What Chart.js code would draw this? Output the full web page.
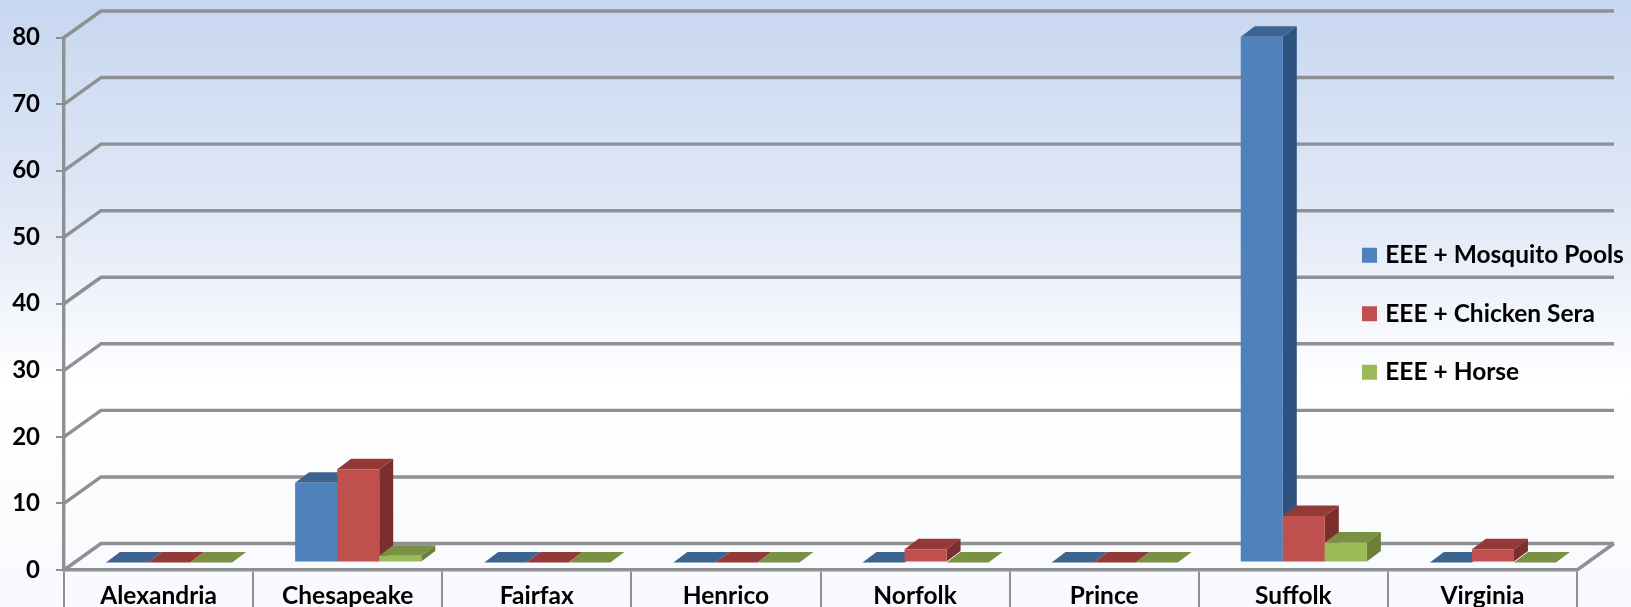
<!DOCTYPE html>
<html>
<head>
<meta charset="utf-8">
<style>
  html, body { margin: 0; padding: 0; background: #fff; overflow: hidden; }
  #wrap { width: 1631px; height: 607px; }
</style>
</head>
<body>
<div id="wrap"><canvas id="chart"></canvas></div>
<script src="https://cdn.jsdelivr.net/npm/chart.js@4"></script>
<script>
const counties = ['Alexandria', 'Chesapeake', 'Fairfax', 'Henrico', 'Norfolk', 'Prince', 'Suffolk', 'Virginia'];
const mosquitoPools = [0, 12, 0, 0, 0, 0, 79, 0];
const chickenSera = [0, 14, 0, 0, 2, 0, 7, 2];
const horse = [0, 1, 0, 0, 0, 0, 3, 0];

const gridGray = '#8e9094';
const fontFamily = 'Lato';
const labelFont = { family: fontFamily, size: 24.5, weight: 'bold' };

// 3D look: wall depth, how far the bars sit in from the front edge, and bar depth
const wall = { dx: 37, dy: -26.5 };
const inset = { dx: 10.5, dy: -7.5 };
const depth = { dx: 14, dy: -10.5 };

const faces = [
  { top: '#3d6491', side: '#2f5380' },
  { top: '#933a38', side: '#7b2f2d' },
  { top: '#7a9143', side: '#6b8039' }
];

function poly(ctx, color, pts) {
  ctx.fillStyle = color;
  ctx.beginPath();
  pts.forEach((p, i) => i ? ctx.lineTo(p[0], p[1]) : ctx.moveTo(p[0], p[1]));
  ctx.closePath();
  ctx.fill();
}

const look3d = {
  id: 'look3d',
  afterLayout(chart) {
    // move the legend from its default chartArea slot to the right side
    const lg = chart.legend;
    const pad = lg.options.labels.padding;
    lg.left = 1366 - pad;
    lg.right = 1631;
    lg.top = 243 - pad;
    lg.bottom = 607;
  },
  beforeDraw(chart) {
    const { ctx, width, height, scales: { x, y } } = chart;
    const bg = ctx.createLinearGradient(0, 0, 0, height);
    bg.addColorStop(0, '#c7d7f0');
    bg.addColorStop(0.33, '#dfe7f6');
    bg.addColorStop(0.64, '#ffffff');
    bg.addColorStop(1, '#f8f9fd');
    ctx.fillStyle = bg;
    ctx.fillRect(0, 0, width, height);

    ctx.save();
    ctx.strokeStyle = gridGray;
    ctx.lineWidth = 3.4;
    ctx.lineJoin = 'round';
    y.ticks.forEach(t => {
      const py = y.getPixelForValue(t.value);
      ctx.beginPath();
      ctx.moveTo(x.left, py);
      ctx.lineTo(x.left + wall.dx, py + wall.dy);
      ctx.lineTo(x.right + wall.dx, py + wall.dy);
      ctx.stroke();
    });
    const y0 = y.getPixelForValue(0);
    ctx.beginPath();
    ctx.moveTo(x.right, y0);
    ctx.lineTo(x.right + wall.dx, y0 + wall.dy);
    ctx.stroke();
    ctx.restore();
  },
  beforeDatasetsDraw(chart) {
    // draw series in index order so the later bars cover the earlier sides
    const { ctx } = chart;
    ctx.save();
    ctx.translate(inset.dx, inset.dy);
    chart.data.datasets.forEach((ds, i) => {
      chart.getDatasetMeta(i).data.forEach(bar => {
        const l = bar.x - bar.width / 2;
        const r = bar.x + bar.width / 2;
        if (bar.base > bar.y) {
          poly(ctx, faces[i].side, [[r, bar.y], [r + depth.dx, bar.y + depth.dy],
            [r + depth.dx, bar.base + depth.dy], [r, bar.base]]);
        }
        poly(ctx, faces[i].top, [[l, bar.y], [r, bar.y],
          [r + depth.dx, bar.y + depth.dy], [l + depth.dx, bar.y + depth.dy]]);
        bar.draw(ctx);
      });
    });
    ctx.restore();
    return false;
  }
};

new Chart(document.getElementById('chart'), {
  type: 'bar',
  data: {
    labels: counties,
    datasets: [
      { label: 'EEE + Mosquito Pools', data: mosquitoPools, backgroundColor: '#4f81bd' },
      { label: 'EEE + Chicken Sera', data: chickenSera, backgroundColor: '#c0504d' },
      { label: 'EEE + Horse', data: horse, backgroundColor: '#9bbb59' }
    ]
  },
  options: {
    responsive: true,
    maintainAspectRatio: false,
    animation: false,
    layout: { padding: { top: 37.5, right: 54, left: 0, bottom: 0 } },
    categoryPercentage: 0.667,
    barPercentage: 1,
    plugins: {
      title: { display: false },
      tooltip: { enabled: false },
      legend: {
        position: 'chartArea',
        align: 'start',
        labels: {
          color: '#000',
          // small box with a thick same colour outline, keeps the text close to the swatch
          boxWidth: 7,
          boxHeight: 7,
          padding: 34,
          font: labelFont,
          generateLabels: chart => Chart.defaults.plugins.legend.labels.generateLabels(chart)
            .map(item => ({ ...item, strokeStyle: item.fillStyle, lineWidth: 8 }))
        }
      }
    },
    scales: {
      x: {
        afterFit: s => { s.height = 37; },
        border: { color: gridGray, width: 3.4 },
        grid: { drawOnChartArea: false, color: gridGray, lineWidth: 2, tickLength: 40 },
        ticks: {
          color: '#000',
          padding: -29,
          autoSkip: false,
          maxRotation: 0,
          font: labelFont
        }
      },
      y: {
        min: 0,
        max: 80,
        afterFit: s => { s.width = 64; },
        border: { color: gridGray, width: 3.4 },
        grid: { drawOnChartArea: false, color: gridGray, lineWidth: 2, tickLength: 8 },
        ticks: {
          stepSize: 10,
          color: '#000',
          padding: 16,
          font: { family: fontFamily, size: 24, weight: 'bold' }
        }
      }
    }
  },
  plugins: [look3d]
});
</script>
</body>
</html>
